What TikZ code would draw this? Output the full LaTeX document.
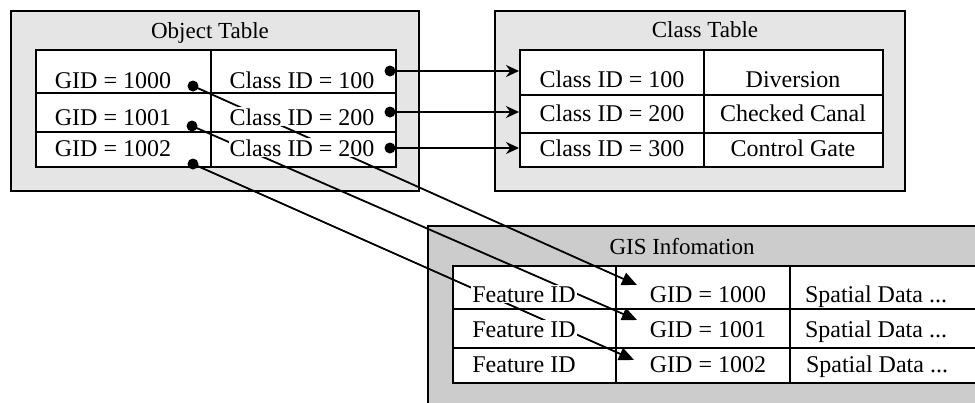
\documentclass[tikz,border=0pt]{standalone}
\usepackage{fontspec}
\setmainfont{Liberation Serif}
\usetikzlibrary{arrows.meta}

\begin{document}
\begin{tikzpicture}[x=1pt,y=-1pt,
  panel/.style={draw=black, line width=2pt, fill=gray!20, inner sep=0pt, anchor=north west},
  gispanel/.style={draw=black, line width=2pt, fill=gray!40, inner sep=0pt, anchor=north west},
  cell/.style={draw=black, line width=1.8pt, fill=white, inner sep=0pt, anchor=north west},
  txt/.style={font=\fontsize{24}{28}\selectfont, inner sep=1pt, fill=white, anchor=base},
  ttl/.style={font=\fontsize{23}{27}\selectfont, inner sep=0pt, anchor=base},
  dot/.style={circle, fill=black, minimum size=11pt, inner sep=0pt},
  link/.style={line width=1.8pt},
  classarrow/.style={link, -{Stealth[length=13pt,width=12pt]}},
  gisarrow/.style={link, -{Triangle[length=15pt,width=13pt]}}
]
\clip (0,0) rectangle (975,402);
\fill[white] (0,0) rectangle (975,402);

% ---------- panels and cells ----------
\node[panel, minimum width=408pt, minimum height=180pt] (objpanel) at (10,10) {};
\node[ttl] (objtitle) at (210,38) {Object Table};
\node[cell, minimum width=175pt, minimum height=43pt] (og1) at (35,49) {};
\node[cell, minimum width=175pt, minimum height=39pt] (og2) at (35,92) {};
\node[cell, minimum width=175pt, minimum height=35pt] (og3) at (35,131) {};
\node[cell, minimum width=185pt, minimum height=43pt] (oc1) at (210,49) {};
\node[cell, minimum width=185pt, minimum height=39pt] (oc2) at (210,92) {};
\node[cell, minimum width=185pt, minimum height=35pt] (oc3) at (210,131) {};

\node[panel, minimum width=410pt, minimum height=180pt] (clspanel) at (494,10) {};
\node[ttl] (clstitle) at (705,37) {Class Table};
\node[cell, minimum width=184pt, minimum height=45pt] (ci1) at (519,49) {};
\node[cell, minimum width=184pt, minimum height=38pt] (ci2) at (519,94) {};
\node[cell, minimum width=184pt, minimum height=34pt] (ci3) at (519,132) {};
\node[cell, minimum width=179pt, minimum height=45pt] (cn1) at (703,49) {};
\node[cell, minimum width=179pt, minimum height=38pt] (cn2) at (703,94) {};
\node[cell, minimum width=179pt, minimum height=34pt] (cn3) at (703,132) {};

\node[gispanel, minimum width=580pt, minimum height=200pt] (gispanel) at (427,225) {};
\node[ttl] (gistitle) at (682,254) {GIS Infomation};
\node[cell, minimum width=163pt, minimum height=43pt] (gf1) at (452,265) {};
\node[cell, minimum width=163pt, minimum height=39pt] (gf2) at (452,308) {};
\node[cell, minimum width=163pt, minimum height=35pt] (gf3) at (452,347) {};
\node[cell, minimum width=174pt, minimum height=43pt] (gg1) at (615,265) {};
\node[cell, minimum width=174pt, minimum height=39pt] (gg2) at (615,308) {};
\node[cell, minimum width=174pt, minimum height=35pt] (gg3) at (615,347) {};
\node[cell, minimum width=220pt, minimum height=43pt] (gs1) at (789,265) {};
\node[cell, minimum width=220pt, minimum height=39pt] (gs2) at (789,308) {};
\node[cell, minimum width=220pt, minimum height=35pt] (gs3) at (789,347) {};

% ---------- link ends ----------
\coordinate (sg1) at (193,86);
\coordinate (sg2) at (192,126);
\coordinate (sg3) at (193,164);
\coordinate (sc1) at (390,71);
\coordinate (sc2) at (390,112);
\coordinate (sc3) at (390,148);
\coordinate (tc1) at (519,71);
\coordinate (tc2) at (519,112);
\coordinate (tc3) at (519,148);
\coordinate (tg1) at (637,285);
\coordinate (tg2) at (637,320);
\coordinate (tg3) at (634,360);

% links run under the cell texts
\draw[classarrow] (sc1) -- (tc1);
\draw[classarrow] (sc2) -- (tc2);
\draw[classarrow] (sc3) -- (tc3);
\draw[gisarrow] (sg1) -- (tg1);
\draw[gisarrow] (sg2) -- (tg2);
\draw[gisarrow] (sg3) -- (tg3);

% ---------- cell texts ----------
\node[txt] (og1t) at (113,88) {GID = 1000};
\node[txt] (og2t) at (113,125) {GID = 1001};
\node[txt] (og3t) at (113,156) {GID = 1002};
\node[txt] (oc1t) at (302,88) {Class ID = 100};
\node[txt] (oc2t) at (302,125) {Class ID = 200};
\node[txt] (oc3t) at (302,156) {Class ID = 200};

\node[txt] (ci1t) at (612,87) {Class ID = 100};
\node[txt] (ci2t) at (612,121) {Class ID = 200};
\node[txt] (ci3t) at (612,156) {Class ID = 300};
\node[txt] (cn1t) at (793,87) {Diversion};
\node[txt] (cn2t) at (793,121) {Checked Canal};
\node[txt] (cn3t) at (793,156) {Control Gate};

\node[txt] (gf1t) at (524,302) {Feature ID};
\node[txt] (gf2t) at (524,337) {Feature ID};
\node[txt] (gf3t) at (524,372) {Feature ID};
\node[txt] (gg1t) at (708,302) {GID = 1000};
\node[txt] (gg2t) at (708,337) {GID = 1001};
\node[txt] (gg3t) at (708,372) {GID = 1002};
\node[txt] (gs1t) at (876,302) {Spatial Data ...};
\node[txt] (gs2t) at (876,337) {Spatial Data ...};
\node[txt] (gs3t) at (877,372) {Spatial Data ...};

% ---------- dots at link starts ----------
\node[dot] (dg1) at (sg1) {};
\node[dot] (dg2) at (sg2) {};
\node[dot] (dg3) at (sg3) {};
\node[dot] (dc1) at (sc1) {};
\node[dot] (dc2) at (sc2) {};
\node[dot] (dc3) at (sc3) {};
\end{tikzpicture}
\end{document}
